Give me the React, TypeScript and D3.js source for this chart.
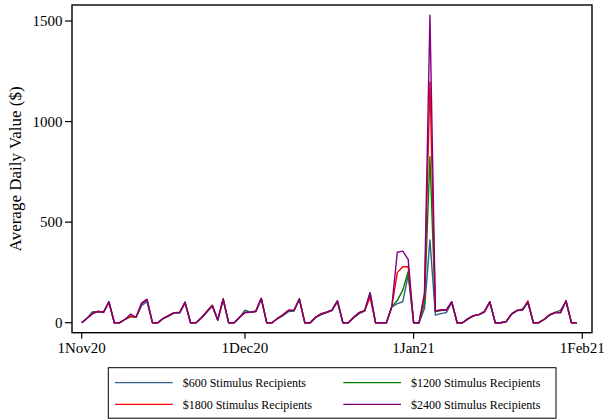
import { useRef, useEffect } from 'react'
import * as d3 from 'd3'

// daily values, 1 Nov 2020 .. 31 Jan 2021
const startDay = new Date(2020, 10, 1)
const endDay = new Date(2021, 1, 1)
const days = d3.timeDay.range(startDay, endDay)

const s600 = [
  0,
  22, 55, 55, 50, 100, 0, 0,
  17, 30, 27, 85, 105, 0, 0,
  20, 33, 48, 48, 98, 0, 0,
  22, 52, 82, 13, 112, 0, 0,
  25, 62, 52, 55, 118, 0, 0,
  20, 35, 55, 58, 115, 0, 0,
  25, 40, 50, 60, 105, 0, 0,
  25, 45, 58, 140, 0, 0, 0,
  78, 95, 104, 237, 0, 0, 70,
  411, 38, 45, 50, 100, 0, 0,
  18, 35, 40, 52, 100, 0, 0,
  5, 45, 60, 68, 100, 0, 0,
  15, 38, 50, 62, 105, 0, 0,
]
const s1200 = [
  0,
  22, 48, 55, 52, 104, 0, 0,
  17, 32, 27, 95, 114, 0, 0,
  22, 35, 50, 50, 102, 0, 0,
  25, 55, 85, 13, 118, 0, 0,
  27, 52, 52, 57, 121, 0, 0,
  22, 38, 60, 60, 118, 0, 0,
  27, 43, 52, 63, 108, 0, 0,
  27, 50, 60, 149, 0, 0, 0,
  80, 110, 162, 253, 0, 0, 100,
  825, 55, 60, 63, 104, 0, 0,
  20, 33, 40, 55, 104, 0, 0,
  5, 43, 60, 63, 104, 0, 0,
  17, 38, 50, 50, 108, 0, 0,
]
const s1800 = [
  0,
  22, 45, 57, 52, 104, 0, 0,
  17, 33, 27, 97, 116, 0, 0,
  22, 36, 50, 52, 101, 0, 0,
  25, 57, 87, 13, 118, 0, 0,
  27, 50, 52, 57, 121, 0, 0,
  22, 40, 62, 62, 118, 0, 0,
  28, 45, 52, 63, 108, 0, 0,
  27, 50, 60, 126, 0, 0, 0,
  80, 249, 278, 278, 0, 0, 130,
  1197, 58, 63, 63, 104, 0, 0,
  20, 35, 40, 55, 104, 0, 0,
  5, 43, 62, 63, 108, 0, 0,
  17, 40, 52, 50, 109, 0, 0,
]
const s2400 = [
  0,
  22, 45, 55, 52, 104, 0, 0,
  17, 43, 27, 96, 116, 0, 0,
  22, 35, 50, 50, 102, 0, 0,
  25, 55, 85, 13, 118, 0, 0,
  27, 50, 52, 57, 121, 0, 0,
  22, 38, 62, 60, 118, 0, 0,
  27, 43, 52, 63, 108, 0, 0,
  27, 50, 60, 149, 0, 0, 0,
  82, 350, 356, 315, 0, 0, 150,
  1529, 58, 63, 63, 104, 0, 0,
  20, 35, 40, 55, 104, 0, 0,
  5, 43, 60, 63, 104, 0, 0,
  17, 38, 50, 50, 109, 0, 0,
]

const seriesLabels = ['$600 Stimulus Recipients', '$1200 Stimulus Recipients', '$1800 Stimulus Recipients', '$2400 Stimulus Recipients']
const seriesColors = ['#2f5f86', '#008000', '#ff0000', '#800080']
const seriesValues = [s600, s1200, s1800, s2400]

const yTicks = [0, 500, 1000, 1500]
const xTicks = [new Date(2020, 10, 1), new Date(2020, 11, 1), new Date(2021, 0, 1), new Date(2021, 1, 1)]
const xTickLabels = ['1Nov20', '1Dec20', '1Jan21', '1Feb21']

const W = 605
const H = 420
const FONT = "'Liberation Serif', 'Times New Roman', serif"

export default function App() {
  const svgRef = useRef<SVGSVGElement | null>(null)

  useEffect(() => {
    if (!svgRef.current) return
    const svg = d3.select(svgRef.current)
    svg.selectAll('*').remove()

    const x = d3.scaleTime().domain([startDay, endDay]).range([81.7, 582.3])
    const y = d3.scaleLinear().domain([0, 1500]).range([322.7, 21])

    const left = 72, right = 592, top = 5, bottom = 332.7

    svg.append('rect').attr('width', W).attr('height', H).attr('fill', '#fff')

    // series, drawn in legend order so purple ends on top
    const line = d3.line<number>()
      .x((_, i) => x(days[i]))
      .y(d => y(d))
    seriesValues.forEach((vals, k) => {
      svg.append('path').datum(vals)
        .attr('d', line).attr('fill', 'none')
        .attr('stroke', seriesColors[k]).attr('stroke-width', 1.4)
        .attr('stroke-linejoin', 'round')
    })

    // frame
    svg.append('rect').attr('x', left).attr('y', top)
      .attr('width', right - left).attr('height', bottom - top)
      .attr('fill', 'none').attr('stroke', '#000').attr('stroke-width', 1.4)

    // y axis
    const ya = svg.append('g').style('font-family', FONT).style('font-size', '15px')
    yTicks.forEach(t => {
      ya.append('line').attr('x1', left - 7).attr('x2', left)
        .attr('y1', y(t)).attr('y2', y(t)).attr('stroke', '#000').attr('stroke-width', 1.2)
      ya.append('text').attr('x', left - 9.5).attr('y', y(t)).attr('dy', '0.35em')
        .attr('text-anchor', 'end').attr('fill', '#000').text(t)
    })
    svg.append('text')
      .attr('transform', `translate(20.5,${(top + bottom) / 2}) rotate(-90)`)
      .attr('text-anchor', 'middle').style('font-family', FONT).style('font-size', '17px')
      .attr('fill', '#000').text('Average Daily Value ($)')

    // x axis
    const xa = svg.append('g').style('font-family', FONT).style('font-size', '15px')
    xTicks.forEach((t, i) => {
      xa.append('line').attr('x1', x(t)).attr('x2', x(t))
        .attr('y1', bottom).attr('y2', bottom + 6).attr('stroke', '#000').attr('stroke-width', 1.2)
      xa.append('text').attr('x', x(t)).attr('y', 353)
        .attr('text-anchor', 'middle').attr('fill', '#000').text(xTickLabels[i])
    })

    // legend
    const lg = svg.append('g').style('font-family', FONT).style('font-size', '12px')
    lg.append('rect').attr('x', 108.3).attr('y', 367.7).attr('width', 447.7).attr('height', 50.5)
      .attr('fill', '#fff').attr('stroke', '#000').attr('stroke-width', 1)
    const colX = [115, 343.3]
    const rowY = [382.7, 404.3]
    seriesLabels.forEach((lab, k) => {
      const cx = colX[k % 2], cy = rowY[Math.floor(k / 2)]
      lg.append('line').attr('x1', cx).attr('x2', cx + 57.7).attr('y1', cy).attr('y2', cy)
        .attr('stroke', seriesColors[k]).attr('stroke-width', 1.3)
      lg.append('text').attr('x', cx + 67.7).attr('y', cy + 4.2).attr('fill', '#000').text(lab)
    })
  }, [])

  return (
    <svg ref={svgRef} width={W} height={H} viewBox={`0 0 ${W} ${H}`}
      style={{ position: 'absolute', left: 0, top: 0 }} />
  )
}
